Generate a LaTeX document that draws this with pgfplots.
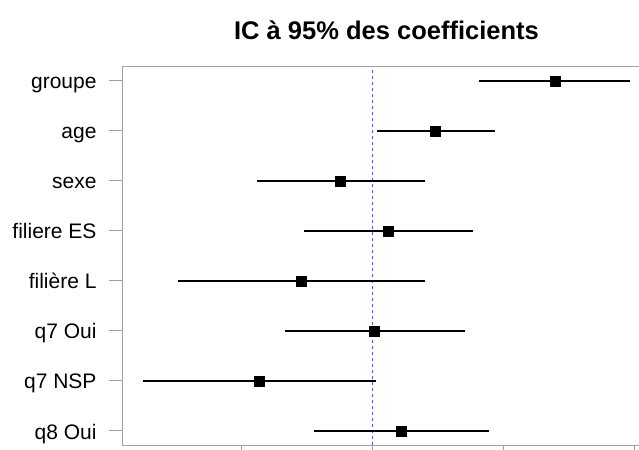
\documentclass[border=0pt]{standalone}
\usepackage{pgfplots}
\usepackage{pgfplotstable}
\pgfplotsset{compat=1.18}
\usepackage{fontspec}
\setmainfont{Liberation Sans}
\definecolor{framegray}{RGB}{160,160,160}
\definecolor{refblue}{RGB}{90,90,240}
\pgfplotstableread{
pos est lo hi
8 1.394 0.818 1.970
7 0.485 0.041 0.940
6 -0.241 -0.878 0.407
5 0.122 -0.520 0.772
4 -0.541 -1.480 0.404
3 0.018 -0.665 0.706
2 -0.863 -1.747 0.028
1 0.224 -0.441 0.891
}\coef
\pgfplotstableread{
x y
0 0.72
0 8.28
}\zeroline
\begin{document}
\begin{tikzpicture}
\begin{axis}[
  scale only axis,
  width=527bp, height=378bp,
  xmin=-1.901, xmax=2.121,
  ymin=0.72, ymax=8.28,
  axis line style={framegray, line width=1bp},
  xtick={-1,0,1,2}, xticklabels={},
  ytick={1,2,3,4,5,6,7,8},
  yticklabels={q8 Oui, q7 NSP, q7 Oui, filière L, filiere ES, sexe, age, groupe},
  xtick pos=left, ytick pos=left,
  tick align=outside,
  major tick length=14bp,
  tick style={framegray, line width=1bp},
  yticklabel style={font=\fontsize{21bp}{25bp}\selectfont, text=black, anchor=base east, xshift=-9bp, yshift=-8bp},
  title={IC à 95\% des coefficients},
  title style={font=\bfseries\fontsize{25.5bp}{30bp}\selectfont, at={(0.5,1)}, anchor=base, yshift=21.5bp},
  clip=false,
]
\addplot[refblue, line width=0.8bp, dash pattern=on 3bp off 3bp] table[x=x, y=y] {\zeroline};
\addplot[only marks, mark=square*, mark size=5bp, black,
  error bars/.cd, x dir=both, x explicit, error mark=none,
  error bar style={line width=2.2bp, black}]
  table[x=est, y=pos,
    x error plus expr=\thisrow{hi}-\thisrow{est},
    x error minus expr=\thisrow{est}-\thisrow{lo}] {\coef};
\end{axis}
\pgfresetboundingbox
\path (-123bp,-5bp) rectangle (516bp,445bp);
\end{tikzpicture}
\end{document}
